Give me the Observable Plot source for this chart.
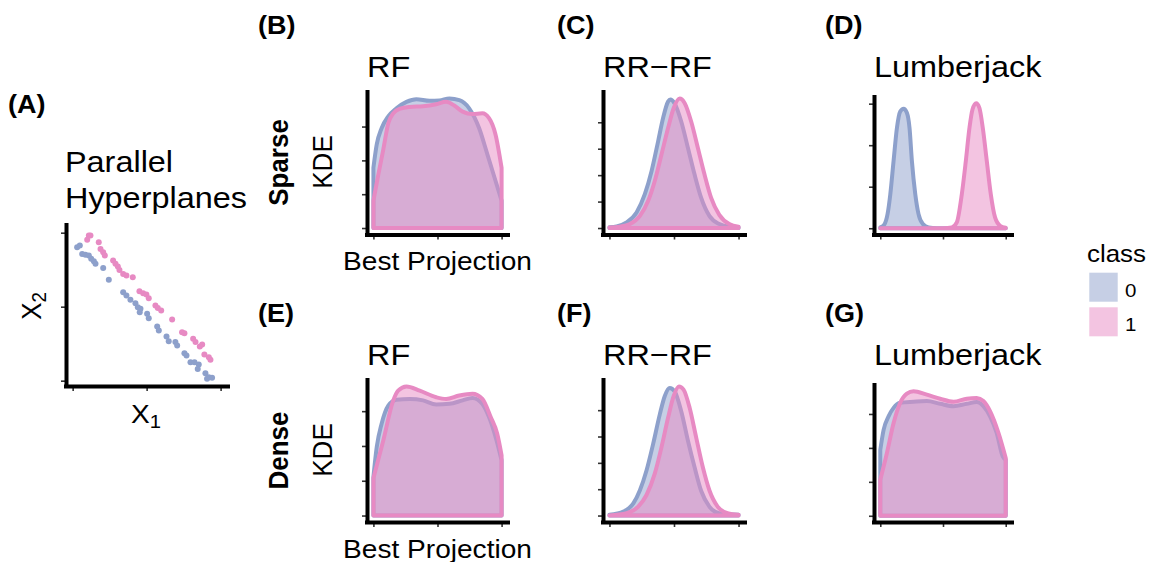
<!DOCTYPE html>
<html>
<head>
<meta charset="utf-8">
<script src="https://cdn.jsdelivr.net/npm/d3@7"></script>
<script src="https://cdn.jsdelivr.net/npm/@observablehq/plot@0.6"></script>
<style>
  html, body { margin: 0; padding: 0; background: #fff; }
  #fig { position: relative; width: 1151px; height: 562px; overflow: hidden;
         font-family: "Liberation Sans", Arial, Helvetica, sans-serif; }
  #fig > svg { position: absolute; background: none; }
</style>
</head>
<body>
<div id="fig"></div>
<script>
// ---- classes ----
const classes = ["0", "1"];
const classColors = ["#8DA0CB", "#E78AC3"];

// ---- (A) Parallel Hyperplanes sample, [X1, X2] ----
const hyperplane0 = [
  [0.027,0.905],[0.045,0.917],[0.061,0.860],[0.083,0.854],[0.106,0.849],[0.122,0.827],
  [0.140,0.811],[0.151,0.793],[0.203,0.764],[0.241,0.685],[0.338,0.601],[0.360,0.579],
  [0.387,0.550],[0.421,0.527],[0.437,0.500],[0.455,0.489],[0.450,0.466],[0.500,0.455],
  [0.511,0.426],[0.568,0.369],[0.579,0.342],[0.631,0.302],[0.646,0.270],[0.691,0.264],
  [0.703,0.241],[0.752,0.189],[0.766,0.173],[0.793,0.128],[0.820,0.128],[0.849,0.113],
  [0.842,0.083],[0.894,0.054],[0.917,0.027],[0.939,0.023],[0.905,0.016]
];
const hyperplane1 = [
  [0.106,0.984],[0.117,0.984],[0.095,0.955],[0.173,0.939],[0.185,0.894],[0.203,0.872],
  [0.214,0.849],[0.270,0.815],[0.286,0.793],[0.302,0.775],[0.313,0.752],[0.338,0.725],
  [0.360,0.714],[0.403,0.703],[0.448,0.608],[0.473,0.595],[0.495,0.586],[0.511,0.561],
  [0.556,0.511],[0.572,0.495],[0.595,0.477],[0.669,0.417],[0.736,0.331],[0.752,0.324],
  [0.811,0.286],[0.827,0.264],[0.856,0.234],[0.872,0.248],[0.887,0.180],[0.917,0.162],
  [0.928,0.144]
];

// ---- KDE of the best projection, [projection, density] ----
const sparseRF0 = [[0,1.78],[0.026,2.47],[0.064,2.95],[0.116,3.30],[0.180,3.54],[0.258,3.73],
  [0.335,3.81],[0.438,3.76],[0.515,3.77],[0.593,3.83],[0.670,3.78],[0.747,3.54],[0.825,2.95],
  [0.889,2.18],[0.953,1.39],[1,0.81]];
const sparseRF1 = [[0,0.81],[0.039,1.59],[0.077,2.32],[0.116,3.10],[0.155,3.39],[0.210,3.53],
  [0.284,3.58],[0.387,3.60],[0.490,3.66],[0.567,3.73],[0.631,3.62],[0.696,3.44],[0.773,3.37],
  [0.850,3.39],[0.902,3.25],[0.953,2.76],[1,1.78]];

const sparseRR0 = [[0,0.03],[0.056,0.06],[0.133,0.21],[0.210,0.59],[0.274,1.28],[0.326,2.15],
  [0.377,3.28],[0.415,4.15],[0.454,4.78],[0.472,4.86],[0.505,4.71],[0.556,4.03],[0.608,3.03],
  [0.659,2.03],[0.710,1.15],[0.774,0.46],[0.851,0.15],[0.928,0.05],[1,0.03]];
const sparseRR1 = [[0,0.02],[0.082,0.05],[0.159,0.15],[0.236,0.46],[0.300,1.03],[0.351,1.78],
  [0.403,2.78],[0.454,3.78],[0.497,4.53],[0.544,4.90],[0.582,4.73],[0.633,4.03],[0.685,3.03],
  [0.736,2.03],[0.787,1.15],[0.851,0.50],[0.928,0.15],[1,0.05]];

const sparseLJ0 = [[0,0.02],[0.032,0.09],[0.058,0.34],[0.080,0.82],[0.106,1.62],[0.133,2.42],
  [0.159,2.81],[0.186,2.88],[0.212,2.78],[0.233,2.42],[0.252,1.62],[0.279,0.82],[0.305,0.34],
  [0.340,0.10],[0.385,0.02],[0.451,0],[1,0]];
const sparseLJ1 = [[0,0],[0.504,0],[0.570,0.02],[0.610,0.14],[0.650,0.82],[0.682,1.62],
  [0.711,2.42],[0.735,2.86],[0.764,3.01],[0.790,2.90],[0.817,2.42],[0.849,1.62],[0.881,0.82],
  [0.915,0.26],[0.955,0.06],[1,0.01]];

const denseRF0 = [[0,1.11],[0.026,1.97],[0.064,2.64],[0.116,3.16],[0.180,3.33],[0.284,3.35],
  [0.387,3.31],[0.490,3.19],[0.593,3.21],[0.696,3.31],[0.773,3.38],[0.850,3.21],[0.902,2.83],
  [0.953,2.26],[1,1.59]];
const denseRF1 = [[0,1.07],[0.077,2.16],[0.155,3.31],[0.193,3.59],[0.258,3.71],[0.361,3.59],
  [0.490,3.40],[0.567,3.35],[0.670,3.45],[0.773,3.50],[0.850,3.35],[0.915,2.83],[0.966,2.35],
  [1,1.73]];

const denseRR0 = [[0,0.03],[0.108,0.15],[0.185,0.46],[0.236,0.96],[0.287,1.71],[0.338,2.71],
  [0.390,3.84],[0.428,4.53],[0.467,4.84],[0.505,4.71],[0.556,3.96],[0.608,2.84],[0.659,1.84],
  [0.710,0.94],[0.774,0.34],[0.851,0.09],[1,0.03]];
const denseRR1 = [[0,0],[0.133,0.09],[0.223,0.34],[0.287,0.78],[0.351,1.59],[0.403,2.59],
  [0.454,3.71],[0.497,4.53],[0.538,4.90],[0.574,4.78],[0.621,4.09],[0.672,2.96],[0.723,1.84],
  [0.774,0.96],[0.838,0.34],[0.915,0.09],[1,0.03]];

const denseLJ0 = [[0,1.94],[0.027,2.54],[0.066,2.93],[0.106,3.18],[0.159,3.33],[0.265,3.36],
  [0.371,3.38],[0.477,3.30],[0.584,3.23],[0.690,3.30],[0.769,3.35],[0.822,3.23],[0.875,2.93],
  [0.928,2.44],[0.976,1.75],[1,1.65]];
const denseLJ1 = [[0,1.06],[0.053,1.85],[0.106,2.73],[0.159,3.33],[0.212,3.60],[0.265,3.67],
  [0.371,3.57],[0.477,3.45],[0.584,3.36],[0.690,3.45],[0.769,3.47],[0.822,3.38],[0.875,3.08],
  [0.942,2.44],[1,1.70]];

// ---- tick values ----
const projTicks = [0, 0.5, 1];
const scatterTicks = [0, 0.5, 1];

// ---- panels ----
const methods = ["RF", "RR\u2212RF", "Lumberjack"];
const settings = ["Sparse", "Dense"];
const tags = [["(B)", "(C)", "(D)"], ["(E)", "(F)", "(G)"]];
const curves = [
  [[sparseRF0, sparseRF1], [sparseRR0, sparseRR1], [sparseLJ0, sparseLJ1]],
  [[denseRF0, denseRF1], [denseRR0, denseRR1], [denseLJ0, denseLJ1]]
];

// ---- layout (pixels) ----
const colLeft = [367, 603, 874], colRight = [508, 745, 1012];
const rowTop = [92, 380], rowBottom = [234.5, 522];
const descenderDrop = [0, 0, 5];   // "Lumberjack" title pushes its panel down
const SX = 1.08;                   // horizontal stretch of the lettering
const FONT = '"Liberation Sans", Arial, Helvetica, sans-serif';

const fig = document.getElementById("fig");
const AXIS = {stroke: "black", strokeWidth: 4, strokeLinecap: "square"};
const TICK = {tickSize: 5, stroke: "#333", strokeWidth: 1.6, fill: "none", label: null};
const M = {l: 10, r: 4, t: 4, b: 10};

function place(svg, left, top) {
  svg.style.left = left + "px";
  svg.style.top = top + "px";
  fig.appendChild(svg);
}

function densityPanel([d0, d1], box) {
  const ymax = d3.max(d0.concat(d1), d => d[1]);
  const yTicks = d3.range(0, Math.floor(ymax) + 1);
  const svg = Plot.plot({
    width: box.right - box.left + M.l + M.r,
    height: box.bottom - box.top + M.t + M.b,
    marginLeft: M.l, marginRight: M.r, marginTop: M.t, marginBottom: M.b,
    style: {background: "none", overflow: "visible"},
    x: {domain: [-0.05, 1.05]},
    y: {domain: [-0.05 * ymax, 1.05 * ymax]},
    marks: [
      ...[d0, d1].map((d, i) => Plot.areaY(d, {
        x: p => p[0], y: p => p[1], curve: "monotone-x",
        fill: classColors[i], fillOpacity: 0.5,
        stroke: classColors[i], strokeWidth: 4, strokeLinejoin: "round"
      })),
      Plot.axisX({ticks: projTicks, ...TICK}),
      Plot.axisY({ticks: yTicks, ...TICK}),
      Plot.ruleX([-0.05], AXIS),
      Plot.ruleY([-0.05 * ymax], AXIS)
    ]
  });
  place(svg, box.left - M.l, box.top - M.t);
}

function scatterPanel(box) {
  const svg = Plot.plot({
    width: box.right - box.left + M.l + M.r,
    height: box.bottom - box.top + M.t + M.b,
    marginLeft: M.l, marginRight: M.r, marginTop: M.t, marginBottom: M.b,
    style: {background: "none", overflow: "visible"},
    x: {domain: [-0.045, 1.05]},
    y: {domain: [-0.036, 1.052]},
    marks: [
      Plot.dot(hyperplane0, {x: p => p[0], y: p => p[1], r: 3, fill: classColors[0]}),
      Plot.dot(hyperplane1, {x: p => p[0], y: p => p[1], r: 3, fill: classColors[1]}),
      Plot.axisX({ticks: scatterTicks, ...TICK}),
      Plot.axisY({ticks: scatterTicks, ...TICK}),
      Plot.ruleX([-0.045], AXIS),
      Plot.ruleY([-0.036], AXIS)
    ]
  });
  place(svg, box.left - M.l, box.top - M.t);
}

scatterPanel({left: 66, right: 228, top: 225, bottom: 386});
for (let r = 0; r < 2; ++r) {
  for (let c = 0; c < 3; ++c) {
    densityPanel(curves[r][c], {
      left: colLeft[c], right: colRight[c],
      top: rowTop[r] + descenderDrop[c], bottom: rowBottom[r]
    });
  }
}

// ---- lettering ----
const overlay = d3.create("svg")
  .attr("width", 1151).attr("height", 562)
  .style("left", "0px").style("top", "0px").style("pointer-events", "none")
  .attr("font-family", FONT).attr("fill", "black");

function label(txt, x, y, {size, weight = "normal", anchor = "start", rotate = false, sub = null}) {
  const t = overlay.append("text")
    .attr("transform", `translate(${x},${y}) scale(${SX},1)` + (rotate ? " rotate(-90)" : ""))
    .attr("text-anchor", anchor)
    .attr("font-size", size)
    .attr("font-weight", weight)
    .text(txt);
  if (sub) t.append("tspan").attr("font-size", size * 0.72).attr("dy", 5).text(sub);
  return t;
}

// panel tags, method titles, row and axis titles
label("(A)", 8, 113, {size: 25, weight: "bold"});
for (let r = 0; r < 2; ++r) {
  const dy = r * 288;
  const tagX = [258, 557, 825];
  for (let c = 0; c < 3; ++c) {
    label(tags[r][c], tagX[c], 33.5 + dy, {size: 25, weight: "bold"});
    label(methods[c], colLeft[c], 77 + dy, {size: 30});
  }
  label(settings[r], 288.3, 162.5 + dy, {size: 26, weight: "bold", anchor: "middle", rotate: true});
  label("KDE", 331.7, 162 + dy, {size: 26, anchor: "middle", rotate: true});
  label("Best Projection", 437.5, 270 + dy, {size: 26, anchor: "middle"});
}

// scatter panel title and axis titles
label("Parallel", 65, 171.5, {size: 30});
label("Hyperplanes", 65, 207.5, {size: 30});
label("X", 146, 423, {size: 26, anchor: "middle", sub: "1"});
label("X", 41, 306, {size: 26, anchor: "middle", rotate: true, sub: "2"});

// legend
label("class", 1087, 261.7, {size: 24});
classes.forEach((k, i) => {
  overlay.append("rect")
    .attr("x", 1089.3).attr("y", 272.7 + i * 34.6)
    .attr("width", 28.4).attr("height", 29)
    .attr("fill", classColors[i]).attr("fill-opacity", 0.5);
  label(k, 1125, 296.5 + i * 34.2, {size: 19});
});

fig.appendChild(overlay.node());
</script>
</body>
</html>
